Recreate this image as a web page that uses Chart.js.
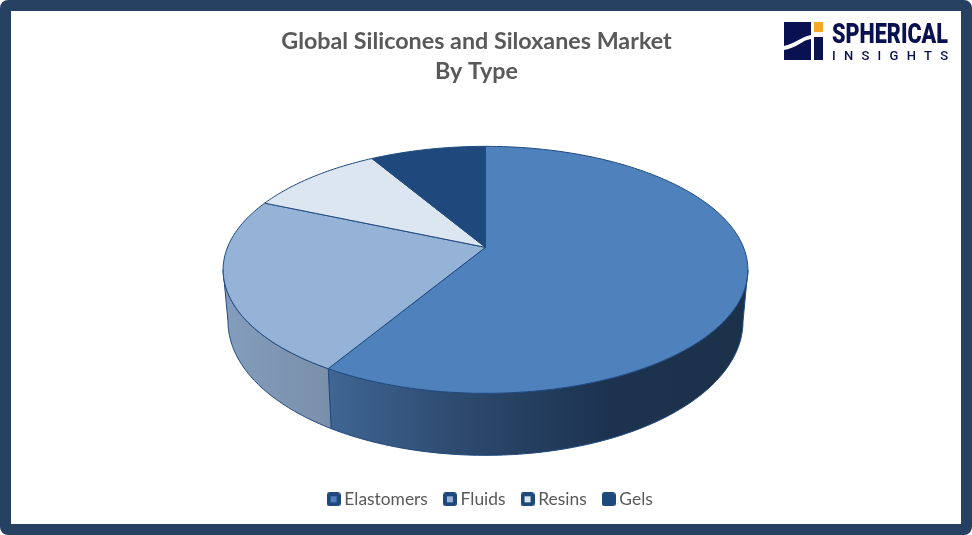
<!DOCTYPE html>
<html>
<head>
<meta charset="utf-8">
<title>Global Silicones and Siloxanes Market</title>
<script src="https://cdn.jsdelivr.net/npm/chart.js@4"></script>
<style>
  html, body { margin: 0; padding: 0; background: #fff; }
  #frame { position: relative; width: 972px; height: 535px; overflow: hidden; }
  #border { position: absolute; inset: 0; box-sizing: border-box; border: 11px solid #254061; border-radius: 8px; background: #fff; }
  #chart { position: absolute; left: 0; top: 0; }
  #logo { position: absolute; left: 780px; top: 18px; }
</style>
</head>
<body>
<div id="frame">
  <div id="border"></div>
  <canvas id="chart" width="972" height="535"></canvas>
  <svg id="logo" width="175" height="46" viewBox="780 18 175 46">
    <path d="M784 22H811V35C803 36 796 43 784 46Z" fill="#0a1150"/>
    <path d="M784 50C797 48 802 40 811 39V60H784Z" fill="#0a1150"/>
    <rect x="814" y="37" width="9" height="23" fill="#0a1150"/>
    <rect x="814" y="22" width="9" height="10" fill="#f5a623"/>
    <text x="832" y="43" textLength="116" lengthAdjust="spacingAndGlyphs" font-family="Roboto" font-weight="900" font-size="28" fill="#0a1150">SPHERICAL</text>
    <text x="832" y="59.5" textLength="116" lengthAdjust="spacing" font-family="Roboto" font-weight="500" font-size="13" fill="#0a1150">INSIGHTS</text>
  </svg>
</div>
<script>
const categories = ['Elastomers', 'Fluids', 'Resins', 'Gels'];
const shares = [58.6, 22.9, 10, 8.5];
const sliceColors = ['#4f81bd', '#95b3d7', '#dce6f1', '#1f497d'];
const edgeColor = '#1f497d';
const textColor = '#595959';

// side wall shading, left to right
const wallShades = [
  ['#3f6694', '#2c486c', '#1c3350', '#1c3149'],
  ['#839dbd', '#7a90aa']
];

// perspective of the tilted pie, relative to the arc radius
const PERSPECTIVE = 0.182;
const TOP_FACE = { rx: 2.15, ry: 0.995, dy: 0 };
const BOTTOM_FACE = { rx: 2.11, ry: 1.079, dy: 0.414 };
const PIE_OFFSET = { x: -0.5, y: -36 };

function project(arc, face, angle) {
  const w = 1 - PERSPECTIVE * Math.sin(angle);
  return {
    x: arc.x + PIE_OFFSET.x + arc.outerRadius * face.rx * Math.cos(angle) / w,
    y: arc.cy + arc.outerRadius * (face.dy + face.ry * Math.sin(angle) / w)
  };
}

function traceFace(ctx, arc, face, from, to, first) {
  const steps = Math.max(2, Math.ceil(Math.abs(to - from) * 60));
  for (let i = 0; i <= steps; i++) {
    const p = project(arc, face, from + (to - from) * i / steps);
    if (i === 0 && first) ctx.moveTo(p.x, p.y);
    else ctx.lineTo(p.x, p.y);
  }
}

// legend swatch: dark rounded box with the slice colour in the middle
function legendSwatch(color) {
  const c = document.createElement('canvas');
  c.width = 14;
  c.height = 14;
  const g = c.getContext('2d');
  g.fillStyle = edgeColor;
  g.beginPath();
  g.roundRect(0, 0, 14, 14, 3);
  g.fill();
  g.fillStyle = color;
  g.fillRect(4, 4, 6, 6);
  return c;
}

const tiltedPie = {
  id: 'tiltedPie',
  afterLayout(chart) {
    chart.titleBlock.left -= 9.5;
    chart.titleBlock.right -= 9.5;
    chart.legend.left += 6.2;
    chart.legend.right += 6.2;
  },
  beforeDatasetDraw(chart) {
    const ctx = chart.ctx;
    const arcs = chart.getDatasetMeta(0).data.map((el, i) => ({
      x: el.x,
      cy: el.y + PIE_OFFSET.y,
      outerRadius: el.outerRadius,
      start: el.startAngle,
      end: el.endAngle,
      fill: el.options.backgroundColor,
      stroke: el.options.borderColor,
      lineWidth: el.options.borderWidth,
      index: i
    }));
    const wallFrom = Math.asin(PERSPECTIVE);
    const wallTo = Math.PI - wallFrom;

    ctx.save();
    ctx.lineJoin = 'round';

    arcs.forEach(arc => {
      const from = Math.max(arc.start, wallFrom);
      const to = Math.min(arc.end, wallTo);
      if (to <= from) return;
      const left = project(arc, TOP_FACE, to).x;
      const right = project(arc, TOP_FACE, from).x;
      const grad = ctx.createLinearGradient(left, 0, right, 0);
      const shades = wallShades[arc.index];
      shades.forEach((c, i) => grad.addColorStop(i / (shades.length - 1), c));
      ctx.beginPath();
      traceFace(ctx, arc, TOP_FACE, from, to, true);
      traceFace(ctx, arc, BOTTOM_FACE, to, from, false);
      ctx.closePath();
      ctx.fillStyle = grad;
      ctx.fill();
      ctx.strokeStyle = arc.stroke;
      ctx.lineWidth = arc.lineWidth;
      ctx.stroke();
    });

    arcs.forEach(arc => {
      ctx.beginPath();
      ctx.moveTo(arc.x + PIE_OFFSET.x, arc.cy);
      traceFace(ctx, arc, TOP_FACE, arc.start, arc.end, false);
      ctx.closePath();
      ctx.fillStyle = arc.fill;
      ctx.fill();
      ctx.strokeStyle = arc.stroke;
      ctx.lineWidth = arc.lineWidth;
      ctx.stroke();
    });

    ctx.restore();
    return false;
  }
};

new Chart(document.getElementById('chart'), {
  type: 'pie',
  data: {
    labels: categories,
    datasets: [{
      data: shares,
      backgroundColor: sliceColors,
      borderColor: edgeColor,
      borderWidth: 1
    }]
  },
  plugins: [tiltedPie],
  options: {
    responsive: false,
    animation: false,
    radius: 120,
    layout: { padding: { top: 23, bottom: 17, left: 0, right: 0 } },
    plugins: {
      tooltip: { enabled: false },
      title: {
        display: true,
        text: ['Global Silicones and Siloxanes Market', 'By Type'],
        color: textColor,
        font: { family: 'Lato', size: 23.3, weight: 'bold', lineHeight: 1.29 },
        padding: { top: 3, bottom: 10 }
      },
      legend: {
        position: 'bottom',
        labels: {
          color: textColor,
          font: { family: 'Lato', size: 17.4 },
          usePointStyle: true,
          boxHeight: 10,
          pointStyleWidth: 4,
          padding: 20,
          generateLabels() {
            return categories.map((name, i) => ({
              text: name,
              fontColor: textColor,
              fillStyle: sliceColors[i],
              strokeStyle: edgeColor,
              pointStyle: legendSwatch(sliceColors[i]),
              index: i
            }));
          }
        }
      }
    }
  }
});
</script>
</body>
</html>
